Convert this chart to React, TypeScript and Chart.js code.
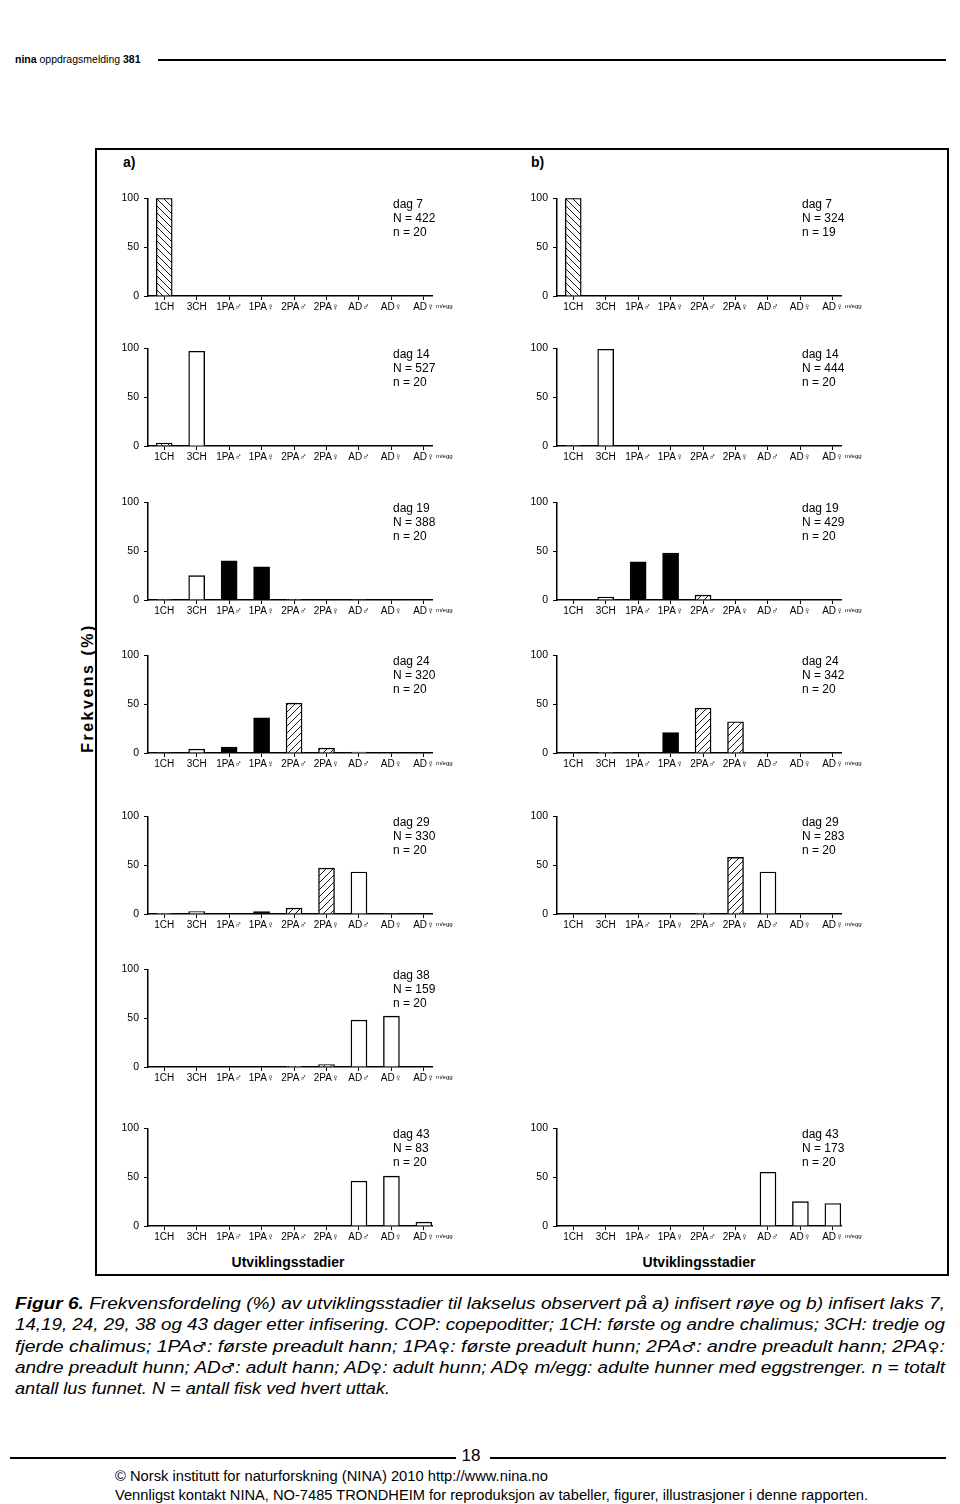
import React, { useEffect, useLayoutEffect, useRef } from "react";
import { Chart, registerables } from "chart.js";

Chart.register(...registerables);

// ---------- data ----------
const CATEGORIES = ["1CH", "3CH", "1PA♂", "1PA♀", "2PA♂", "2PA♀", "AD♂", "AD♀", "AD♀"];
const Y_TICKS = [0, 50, 100];
const LAST_SUFFIX = "m/egg";

// a) infisert røye
const A_DAYS = [7, 14, 19, 24, 29, 38, 43];
const A_N = [422, 527, 388, 320, 330, 159, 83];
const A_SMALL_N = [20, 20, 20, 20, 20, 20, 20];
const A_DAG7 = [100, 0, 0, 0, 0, 0, 0, 0, 0];
const A_DAG14 = [3, 97, 0, 0, 0, 0, 0, 0, 0];
const A_DAG19 = [0.6, 25, 40, 34, 0.6, 0, 0.5, 0, 0];
const A_DAG24 = [0.5, 4, 6, 36, 51, 5, 1, 0, 0];
const A_DAG29 = [0.4, 2.5, 0.5, 2.5, 6, 47, 43, 0.5, 0];
const A_DAG38 = [0, 0, 0, 0, 0.7, 2.5, 48, 52, 0];
const A_DAG43 = [0, 0, 0, 0, 0, 0, 46, 51, 4];

// b) infisert laks (no dag 38)
const B_DAYS = [7, 14, 19, 24, 29, 43];
const B_N = [324, 444, 429, 342, 283, 173];
const B_SMALL_N = [19, 20, 20, 20, 20, 20];
const B_DAG7 = [100, 0, 0, 0, 0, 0, 0, 0, 0];
const B_DAG14 = [0.6, 99, 0, 0, 0, 0, 0, 0, 0];
const B_DAG19 = [0, 3, 39, 48, 5, 0, 0, 0, 0];
const B_DAG24 = [0, 0.6, 0.6, 21, 46, 32, 0, 0, 0];
const B_DAG29 = [0, 0, 0, 0.5, 1, 58, 43, 0, 0];
const B_DAG43 = [0, 0, 0, 0, 0, 0, 55, 25, 23];

// ---------- layout / style ----------
const FONT = '"Liberation Sans", "DejaVu Sans", Arial, Helvetica, sans-serif';
const SYM_FONT = '"DejaVu Sans", sans-serif';
const FILL_KIND = ["back", "white", "black", "black", "fwd", "fwd", "white", "white", "white"];
const ROW_TOPS = [197, 347, 501, 654, 815, 968, 1127];
const COL_A_AXIS = 148;
const COL_B_AXIS = 557;
const PLOT_W = 284;
const PLOT_H = 99;
const Y_AXIS_W = 45;
const PAD_TOP = 10;
const X_AXIS_H = 24;
const PAD_RIGHT = 45;

function makeHatch(dir: number, gap: number) {
  const c = document.createElement("canvas");
  c.width = gap;
  c.height = gap;
  const g = c.getContext("2d")!;
  g.fillStyle = "#fff";
  g.fillRect(0, 0, gap, gap);
  g.strokeStyle = "#000";
  g.lineWidth = 0.9;
  g.beginPath();
  if (dir === 1) {
    g.moveTo(0, gap);
    g.lineTo(gap, 0);
    g.moveTo(-1, 1);
    g.lineTo(1, -1);
    g.moveTo(gap - 1, gap + 1);
    g.lineTo(gap + 1, gap - 1);
  } else {
    g.moveTo(0, 0);
    g.lineTo(gap, gap);
    g.moveTo(gap - 1, -1);
    g.lineTo(gap + 1, 1);
    g.moveTo(-1, gap - 1);
    g.lineTo(1, gap + 1);
  }
  g.stroke();
  return g.createPattern(c, "repeat");
}

const annotPlugin = {
  id: "annot",
  afterDraw(chart: any, _args: any, opts: any) {
    const { ctx, chartArea, scales } = chart;
    ctx.save();
    ctx.fillStyle = "#000";
    ctx.textBaseline = "middle";
    ctx.textAlign = "left";
    ctx.font = `12px ${FONT}`;
    (opts.lines || []).forEach((l: string, i: number) => {
      ctx.fillText(l, chartArea.left + 245, chartArea.top + 6 + i * 14);
    });
    ctx.font = `6px ${FONT}`;
    const x = scales.x.getPixelForValue(CATEGORIES.length - 1) + 12;
    ctx.fillText(LAST_SUFFIX, x, chartArea.bottom + 10);
    ctx.restore();
  },
};

type PanelProps = { axisX: number; top: number; values: number[]; lines: string[] };

function Panel({ axisX, top, values, lines }: PanelProps) {
  const ref = useRef<HTMLCanvasElement | null>(null);
  const W = Y_AXIS_W + PLOT_W + PAD_RIGHT;
  const H = PAD_TOP + PLOT_H + X_AXIS_H;
  useEffect(() => {
    if (!ref.current) return;
    const fwd = makeHatch(1, 7);
    const back = makeHatch(-1, 7);
    const fillFor = (i: number) => {
      const k = FILL_KIND[i];
      if (k === "black") return "#000";
      if (k === "fwd") return fwd;
      if (k === "back") return back;
      return "#fff";
    };
    const gridOpts = {
      display: true,
      drawOnChartArea: false,
      drawTicks: true,
      tickLength: 4,
      color: "#000",
      lineWidth: 1,
      offset: false,
    };
    const borderOpts = { display: true, color: "#000", width: 1.5 };
    const chart = new Chart(ref.current, {
      type: "bar",
      data: {
        datasets: [
          {
            data: values.map((v, i) => ({ x: i, y: v })),
            backgroundColor: (c: any) => fillFor(c.dataIndex),
            borderColor: "#000",
            borderWidth: 1.4,
            borderSkipped: "bottom",
            barThickness: 16,
          } as any,
        ],
      },
      options: {
        animation: false,
        responsive: false,
        events: [],
        layout: { padding: { top: PAD_TOP, right: PAD_RIGHT, left: 0, bottom: 0 } },
        plugins: {
          legend: { display: false },
          tooltip: { enabled: false },
          annot: { lines },
        } as any,
        scales: {
          x: {
            type: "linear",
            min: -0.5,
            max: 8.25,
            offset: false,
            afterBuildTicks: (s: any) => {
              s.ticks = CATEGORIES.map((_, i) => ({ value: i }));
            },
            afterFit: (s: any) => {
              s.height = X_AXIS_H;
            },
            ticks: {
              autoSkip: false,
              maxRotation: 0,
              minRotation: 0,
              padding: 1,
              color: "#000",
              font: { size: 10, family: FONT },
              callback: (v: any) => CATEGORIES[v as number],
            },
            grid: gridOpts,
            border: borderOpts,
          } as any,
          y: {
            type: "linear",
            min: 0,
            max: 100,
            afterBuildTicks: (s: any) => {
              s.ticks = Y_TICKS.map((v) => ({ value: v }));
            },
            afterFit: (s: any) => {
              s.width = Y_AXIS_W;
            },
            ticks: {
              padding: 5,
              color: "#000",
              font: { size: 10.5, family: FONT },
            },
            grid: gridOpts,
            border: borderOpts,
          } as any,
        },
      },
      plugins: [annotPlugin as any],
    });
    return () => chart.destroy();
  }, []);
  return (
    <canvas
      ref={ref}
      width={W}
      height={H}
      style={{ position: "absolute", left: axisX - Y_AXIS_W, top: top - PAD_TOP, width: W, height: H }}
    />
  );
}

const abs = (s: React.CSSProperties): React.CSSProperties => ({ position: "absolute", ...s });

// render ♂/♀ with a font that has full-size glyphs
function Sym({ text }: { text: string }) {
  const parts = text.split(/([♂♀])/);
  return (
    <>
      {parts.map((p, i) =>
        p === "♂" || p === "♀" ? (
          <span key={i} style={{ fontFamily: SYM_FONT, fontStyle: "normal", fontSize: "0.85em" }}>
            {p}
          </span>
        ) : (
          <React.Fragment key={i}>{p}</React.Fragment>
        )
      )}
    </>
  );
}

function FitLine({ target, height, children }: { target: number; height: number; children: React.ReactNode }) {
  const ref = useRef<HTMLSpanElement | null>(null);
  useLayoutEffect(() => {
    const el = ref.current;
    if (!el) return;
    el.style.transform = "none";
    const w = el.getBoundingClientRect().width;
    if (w > 0) el.style.transform = `scaleX(${target / w})`;
  }, [target]);
  return (
    <div style={{ whiteSpace: "nowrap", height, lineHeight: `${height}px` }}>
      <span ref={ref} style={{ display: "inline-block", transformOrigin: "left center" }}>
        {children}
      </span>
    </div>
  );
}

export default function App() {
  const aVals = [A_DAG7, A_DAG14, A_DAG19, A_DAG24, A_DAG29, A_DAG38, A_DAG43];
  const bVals = [B_DAG7, B_DAG14, B_DAG19, B_DAG24, B_DAG29, B_DAG43];
  const bRows = [0, 1, 2, 3, 4, 6];
  return (
    <div
      style={{
        position: "absolute",
        left: 0,
        top: 0,
        width: 960,
        height: 1504,
        background: "#fff",
        color: "#000",
        fontFamily: FONT,
        overflow: "hidden",
      }}
    >
      {/* header */}
      <div style={abs({ left: 15, top: 52, fontSize: 10.5, lineHeight: "14px", whiteSpace: "nowrap" })}>
        <b>nina</b> oppdragsmelding <b>381</b>
      </div>
      <div style={abs({ left: 158, top: 59, width: 788, height: 2, background: "#000" })} />

      {/* figure box */}
      <div
        style={abs({
          left: 95,
          top: 148,
          width: 850,
          height: 1124,
          border: "2px solid #000",
        })}
      />
      <div style={abs({ left: 123, top: 154, fontSize: 14, fontWeight: "bold" })}>a)</div>
      <div style={abs({ left: 531, top: 154, fontSize: 14, fontWeight: "bold" })}>b)</div>

      <div
        style={abs({
          left: 88,
          top: 688,
          transform: "translate(-50%, -50%) rotate(-90deg)",
          fontSize: 16,
          fontWeight: "bold",
          letterSpacing: 2.5,
          whiteSpace: "nowrap",
        })}
      >
        Frekvens (%)
      </div>

      {aVals.map((v, i) => (
        <Panel
          key={"a" + i}
          axisX={COL_A_AXIS}
          top={ROW_TOPS[i]}
          values={v}
          lines={[`dag ${A_DAYS[i]}`, `N = ${A_N[i]}`, `n = ${A_SMALL_N[i]}`]}
        />
      ))}
      {bVals.map((v, i) => (
        <Panel
          key={"b" + i}
          axisX={COL_B_AXIS}
          top={ROW_TOPS[bRows[i]]}
          values={v}
          lines={[`dag ${B_DAYS[i]}`, `N = ${B_N[i]}`, `n = ${B_SMALL_N[i]}`]}
        />
      ))}

      <div style={abs({ left: 288, top: 1262, transform: "translate(-50%, -50%)", fontSize: 14, fontWeight: "bold", whiteSpace: "nowrap" })}>
        Utviklingsstadier
      </div>
      <div style={abs({ left: 699, top: 1262, transform: "translate(-50%, -50%)", fontSize: 14, fontWeight: "bold", whiteSpace: "nowrap" })}>
        Utviklingsstadier
      </div>

      {/* caption */}
      <div style={abs({ left: 15, top: 1293, width: 940, fontSize: 16, fontStyle: "italic" })}>
        <FitLine target={930} height={21.3}>
          <b>Figur 6.</b> Frekvensfordeling (%) av utviklingsstadier til lakselus observert på a) infisert røye og b) infisert laks 7,
        </FitLine>
        <FitLine target={930} height={21.3}>
          14,19, 24, 29, 38 og 43 dager etter infisering. COP: copepoditter; 1CH: første og andre chalimus; 3CH: tredje og
        </FitLine>
        <FitLine target={930} height={21.3}>
          <Sym text="fjerde chalimus; 1PA♂: første preadult hann; 1PA♀: første preadult hunn; 2PA♂: andre preadult hann; 2PA♀:" />
        </FitLine>
        <FitLine target={930} height={21.3}>
          <Sym text="andre preadult hunn; AD♂: adult hann; AD♀: adult hunn; AD♀ m/egg: adulte hunner med eggstrenger. n = totalt" />
        </FitLine>
        <FitLine target={375} height={21.3}>
          antall lus funnet. N = antall fisk ved hvert uttak.
        </FitLine>
      </div>

      {/* footer */}
      <div style={abs({ left: 10, top: 1457, width: 446, height: 1.5, background: "#000" })} />
      <div style={abs({ left: 490, top: 1457, width: 456, height: 1.5, background: "#000" })} />
      <div style={abs({ left: 471, top: 1456, transform: "translate(-50%, -50%)", fontSize: 17 })}>18</div>
      <div style={abs({ left: 115, top: 1467, width: 840, fontSize: 14 })}>
        <FitLine target={433} height={19}>
          © Norsk institutt for naturforskning (NINA) 2010 http://www.nina.no
        </FitLine>
        <FitLine target={753} height={19}>
          Vennligst kontakt NINA, NO-7485 TRONDHEIM for reproduksjon av tabeller, figurer, illustrasjoner i denne rapporten.
        </FitLine>
      </div>
    </div>
  );
}
